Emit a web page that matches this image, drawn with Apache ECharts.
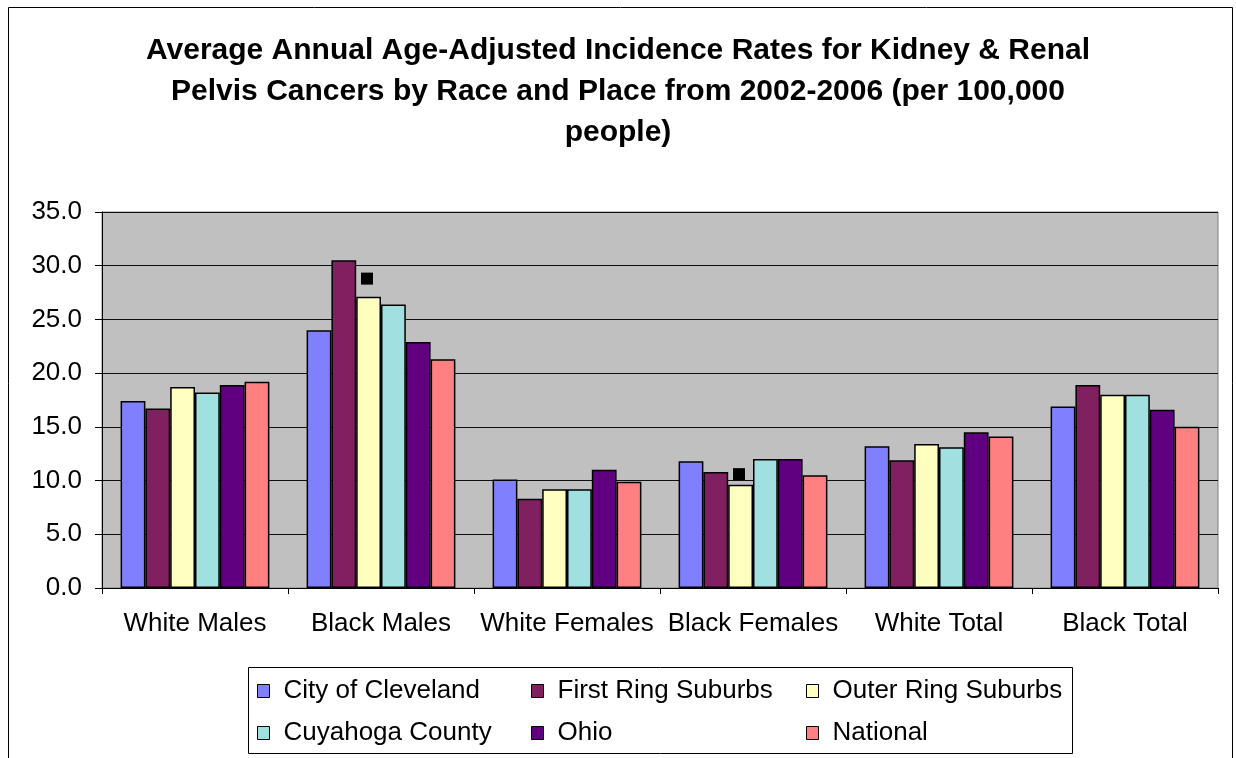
<!DOCTYPE html>
<html style="height: 100%">
  <head>
    <meta charset="UTF-8" />
    <title>Kidney & Renal Pelvis Cancer Incidence</title>
    <script src="https://cdn.jsdelivr.net/npm/echarts@6/dist/echarts.min.js"></script>
  </head>
  <body style="height: 100%; margin: 0; background: #fff">
    <div id="main" style="width: 1236px; height: 758px"></div>
    <script>
      const chart = echarts.init(document.getElementById('main'))

      const categories = ['White Males', 'Black Males', 'White Females', 'Black Females', 'White Total', 'Black Total']
      const seriesNames = ['City of Cleveland', 'First Ring Suburbs', 'Outer Ring Suburbs', 'Cuyahoga County', 'Ohio', 'National']
      const colors = ['#8080FF', '#802060', '#FFFFC0', '#A0E0E0', '#600080', '#FF8080']

      const cleveland = [17.4, 24.0, 10.1, 11.8, 13.2, 16.9]
      const firstRing = [16.7, 30.5, 8.3, 10.8, 11.9, 18.9]
      const outerRing = [18.7, 27.1, 9.2, 9.6, 13.4, 18.0]
      const cuyahoga = [18.2, 26.4, 9.2, 12.0, 13.1, 18.0]
      const ohio = [18.9, 22.9, 11.0, 12.0, 14.5, 16.6]
      const national = [19.2, 21.3, 9.9, 10.5, 14.1, 15.0]
      // small black squares drawn above some Outer Ring bars
      const markers = ['-', 28.8, '-', 10.6, '-', '-']

      const yTicks = [0, 5, 10, 15, 20, 25, 30, 35]

      const values = [cleveland, firstRing, outerRing, cuyahoga, ohio, national]
      const font = '"Liberation Sans", Arial, sans-serif'

      const barSeries = values.map((data, i) => ({
        name: seriesNames[i],
        type: 'bar',
        data: data,
        barGap: '0%',
        barCategoryGap: '20%',
        itemStyle: { color: colors[i], borderColor: '#000', borderWidth: 1.5 },
      }))

      const legendCol = (names, left) => ({
        orient: 'vertical',
        left: left,
        top: 678,
        padding: 0,
        itemGap: 16,
        itemWidth: 12,
        itemHeight: 13,
        icon: 'rect',
        data: names,
        itemStyle: { borderColor: '#000', borderWidth: 1 },
        textStyle: { fontFamily: font, fontSize: 26, color: '#000', lineHeight: 26, padding: [0, 0, 0, 9] },
        selectedMode: false,
      })

      const option = {
        animation: false,
        color: colors,
        title: {
          text: 'Average Annual Age-Adjusted Incidence Rates for Kidney & Renal\nPelvis Cancers by Race and Place from 2002-2006 (per 100,000\npeople)',
          left: 'center',
          top: 30,
          padding: 0,
          textStyle: { fontFamily: font, fontSize: 30, fontWeight: 'bold', color: '#000', lineHeight: 41 },
        },
        legend: [
          legendCol([seriesNames[0], seriesNames[3]], 257),
          legendCol([seriesNames[1], seriesNames[4]], 531),
          legendCol([seriesNames[2], seriesNames[5]], 806),
        ],
        grid: {
          left: 102,
          right: 18,
          top: 212,
          bottom: 170,
          show: true,
          backgroundColor: '#C0C0C0',
          borderColor: '#808080',
          borderWidth: 1,
        },
        xAxis: {
          type: 'category',
          data: categories,
          axisLine: { lineStyle: { color: '#000', width: 1 } },
          axisTick: { show: true, length: 6, lineStyle: { color: '#000' } },
          axisLabel: { fontFamily: font, fontSize: 26, color: '#000', margin: 23, interval: 0 },
        },
        yAxis: {
          type: 'value',
          min: yTicks[0],
          max: yTicks[yTicks.length - 1],
          interval: 5,
          axisLine: { show: true, lineStyle: { color: '#000', width: 1 } },
          axisTick: { show: true, length: 7, lineStyle: { color: '#000' } },
          splitLine: { lineStyle: { color: '#101010', width: 1 } },
          axisLabel: { fontFamily: font, fontSize: 26, color: '#000', margin: 20, formatter: (v) => v.toFixed(1) },
        },
        series: [
          ...barSeries,
          {
            name: 'markers',
            type: 'scatter',
            data: markers,
            symbol: 'rect',
            symbolSize: 12,
            symbolOffset: [-14, 0],
            itemStyle: { color: '#000', opacity: 1 },
            z: 5,
          },
        ],
        graphic: [
          {
            type: 'rect',
            shape: { x: 8.5, y: 7.5, width: 1224, height: 800 },
            style: { fill: null, stroke: '#000', lineWidth: 1 },
            silent: true,
          },
          {
            type: 'rect',
            shape: { x: 248.5, y: 667.5, width: 824, height: 86 },
            style: { fill: null, stroke: '#000', lineWidth: 1 },
            silent: true,
          },
        ],
      }

      chart.setOption(option)
    </script>
  </body>
</html>
